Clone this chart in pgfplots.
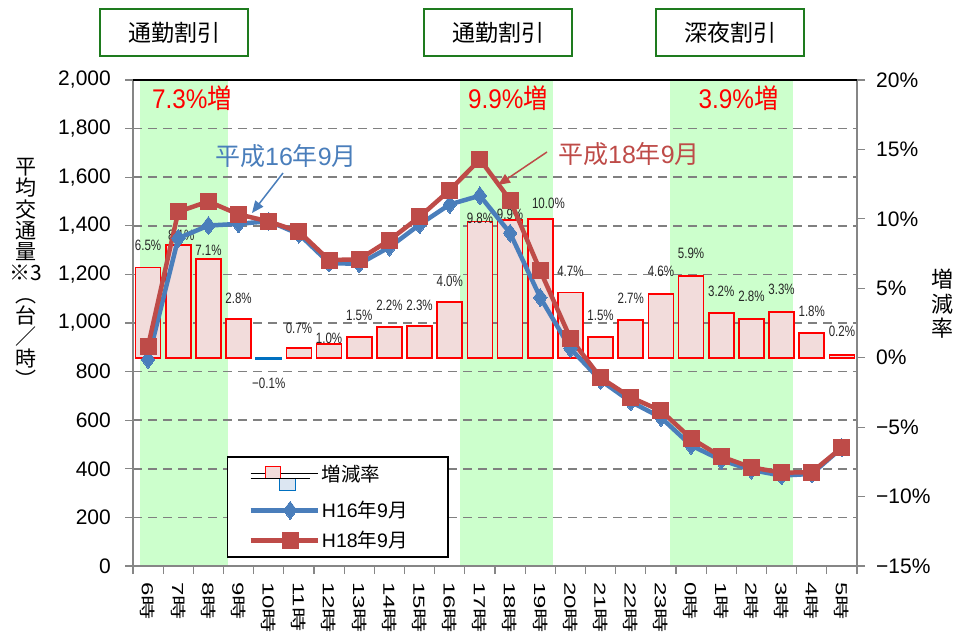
\documentclass[border=0pt]{standalone}
\usepackage{pgfplots}
\pgfplotsset{compat=1.18}
\usetikzlibrary{arrows.meta}
\usepackage{fontspec}
\setmainfont{Liberation Sans}
\newfontfamily\jp{Noto Sans CJK JP}
\newcommand\J[1]{{\jp #1}}
\definecolor{lblue}{HTML}{4A7EBB}
\definecolor{lred}{HTML}{BE4B48}
\definecolor{bandg}{HTML}{CCFFCC}
\definecolor{barfill}{HTML}{F2DCDB}
\definecolor{negblue}{HTML}{0070C0}
\definecolor{negfill}{HTML}{DCE6F2}
\definecolor{boxg}{HTML}{1E7B1E}
\definecolor{axgray}{HTML}{868686}
\definecolor{gridgray}{HTML}{808080}
\pgfplotsset{
  set layers,
  base/.style={scale only axis, width=724pt, height=486pt, at={(133pt,69pt)}, anchor=south west, xmin=-0.5, xmax=23.5},
}
\begin{document}
\begin{tikzpicture}[x=1pt,y=1pt]

% ---- axis 1: bands, grid, left axis, boundary ticks
\begin{axis}[base, ymin=0, ymax=2000,
  axis x line*=bottom, axis y line*=left,
  axis line style={axgray, line width=1.5pt, -},
  ytick={0,200,...,2000},
  yticklabels={0,200,400,600,800,{1,000},{1,200},{1,400},{1,600},{1,800},{2,000}},
  ymajorgrids, grid style={gridgray, line width=1.6pt, dash pattern=on 9pt off 6pt},
  xtick={-0.5,0.5,...,23.5},
  xticklabel style={text opacity=0, font=\tiny},
  tick align=outside, major tick length=8pt,
  tick style={axgray, line width=1.2pt},
  yticklabel style={font=\fontsize{21}{24}\selectfont, inner sep=0pt},
  yticklabel shift=14pt,
]
\addplot[draw=none] coordinates {(0,0)};
\begin{pgfonlayer}{axis background}
\fill[bandg] (axis cs:-0.27,0) rectangle (axis cs:2.65,2000);
\fill[bandg] (axis cs:10.34,0) rectangle (axis cs:13.42,2000);
\fill[bandg] (axis cs:17.3,0) rectangle (axis cs:21.37,2000);
\end{pgfonlayer}
\draw[black, line width=1.8pt] (rel axis cs:0,1) -- (rel axis cs:1,1);
\end{axis}

% ---- axis 2: bars on right axis
\begin{axis}[base, ymin=-15, ymax=20,
  axis y line*=right, axis x line=none,
  axis line style={axgray, line width=1.5pt, -},
  ytick={-15,-10,...,20},
  yticklabels={−15\%,−10\%,−5\%,0\%,5\%,10\%,15\%,20\%},
  tick align=outside, major tick length=8pt,
  tick style={axgray, line width=1.2pt},
  yticklabel style={font=\fontsize{21}{24}\selectfont, inner sep=0pt},
  yticklabel shift=11pt,
]
\addplot[ybar, bar width=25pt, bar shift=0pt, draw=red, fill=barfill, line width=1.6pt]
 coordinates {(0,6.5)(1,8.1)(2,7.1)(3,2.8)(5,0.7)(6,1.0)(7,1.5)(8,2.2)(9,2.3)(10,4.0)(11,9.8)(12,9.9)(13,10.0)(14,4.7)(15,1.5)(16,2.7)(17,4.6)(18,5.9)(19,3.2)(20,2.8)(21,3.3)(22,1.8)(23,0.2)};
\addplot[ybar, bar width=25pt, bar shift=0pt, draw=negblue, fill=negblue, line width=1.6pt]
 coordinates {(4,-0.1)};
\addplot[draw=none, nodes near coords, point meta=explicit symbolic,
  nodes near coords style={anchor=center, font=\fontsize{15}{15}\selectfont, xscale=0.77, inner sep=0pt, text=black!85}]
 coordinates {(0,8.12)[6.5\%] (1.1,8.79)[8.1\%] (2,7.71)[7.1\%] (3,4.30)[2.8\%] (4,-1.82)[−0.1\%]
  (5,2.14)[0.7\%] (6,1.40)[1.0\%] (7,3.07)[1.5\%] (8,3.80)[2.2\%] (9,3.80)[2.3\%] (10,5.47)[4.0\%]
  (11,10.06)[9.8\%] (12,10.35)[9.9\%] (13.27,11.12)[10.0\%] (14,6.24)[4.7\%] (15,3.07)[1.5\%]
  (16,4.28)[2.7\%] (17,6.24)[4.6\%] (18,7.52)[5.9\%] (19,4.80)[3.2\%] (20,4.39)[2.8\%]
  (21,4.92)[3.3\%] (22,3.31)[1.8\%] (23,1.87)[0.2\%]};
\end{axis}

% ---- axis 3: lines, x labels, legend
\begin{axis}[base, ymin=0, ymax=2000,
  axis x line*=bottom, axis y line=none,
  axis line style={draw=none},
  major tick length=0pt,
  xtick={0,...,23},
  xticklabels={6\J{時},7\J{時},8\J{時},9\J{時},10\J{時},11\J{時},12\J{時},13\J{時},14\J{時},15\J{時},16\J{時},17\J{時},18\J{時},19\J{時},20\J{時},21\J{時},22\J{時},23\J{時},0\J{時},1\J{時},2\J{時},3\J{時},4\J{時},5\J{時}},
  xticklabel style={font=\fontsize{16}{16}\selectfont, rotate=-90, anchor=west, xscale=1.5, inner sep=0pt},
  xticklabel shift=16pt,
  legend style={at={(0.1294,0.2263)}, anchor=north west, draw=black, line width=1.5pt, fill=white,
    font=\fontsize{19.5}{22}\selectfont, inner xsep=21pt, inner ysep=6pt, row sep=8pt},
  legend cell align=left,
  legend image code/.code={\path (-12pt,0) -- (55pt,0);
    \draw[mark repeat=2, mark phase=2, #1] plot coordinates {(0pt,0pt) (27.5pt,0pt) (55pt,0pt)};},
]
\addlegendimage{legend image code/.code={\path (-12pt,0) -- (55pt,0);
  \draw[red, fill=barfill, line width=1.2pt] (3pt,-5pt) rectangle (18pt,7pt);
  \draw[negblue, fill=negfill, line width=1.2pt] (17pt,-5pt) rectangle (33pt,-17pt);
  \draw[black, line width=1.2pt] (-12pt,-5pt) -- (47pt,-5pt);}}
\addlegendentry{\makebox[103pt][l]{\J{増減率}}}
\addplot[lblue, line width=4.5pt, mark=diamond*, mark size=9pt, mark options={solid, line width=0pt}]
 coordinates {(0,850)(1,1349)(2,1401)(3,1408)(4,1419)(5,1366)(6,1247)(7,1243)(8,1312)(9,1405)(10,1488)(11,1524)(12,1370)(13,1105)(14,895)(15,764)(16,676)(17,611)(18,496)(19,436)(20,395)(21,372)(22,379)(23,487)};
\addlegendentry{\makebox[103pt][l]{H16\J{年}9\J{月}}}
\addplot[lred, line width=4.5pt, mark=square*, mark size=8pt, mark options={solid, line width=0pt}]
 coordinates {(0,905)(1,1458)(2,1500)(3,1447)(4,1418)(5,1376)(6,1259)(7,1262)(8,1341)(9,1437)(10,1547)(11,1673)(12,1506)(13,1215)(14,937)(15,775)(16,694)(17,639)(18,525)(19,450)(20,406)(21,384)(22,386)(23,488)};
\addlegendentry{\makebox[103pt][l]{H18\J{年}9\J{月}}}
\end{axis}

% ---- annotations
\foreach \cx/\t in {174/通勤割引, 498.3/通勤割引, 730/深夜割引}{
  \node[draw=boxg, line width=2pt, minimum width=148pt, minimum height=47pt, inner sep=0pt,
    font=\fontsize{23}{23}\selectfont\jp] at (\cx,602.5) {\t};
}
\node[red, font=\fontsize{27}{27}\selectfont, xscale=0.9] at (192,537) {7.3\%\J{増}};
\node[red, font=\fontsize{27}{27}\selectfont, xscale=0.9] at (508,537) {9.9\%\J{増}};
\node[red, font=\fontsize{27}{27}\selectfont, xscale=0.9] at (738.5,537) {3.9\%\J{増}};

\node[lblue, font=\fontsize{25}{25}\selectfont] at (286,479) {\J{平成}16\J{年}9\J{月}};
\draw[lblue, line width=1.5pt, -{Triangle[length=12pt,width=10pt]}] (283,462) -- (252,422);
\node[lred, font=\fontsize{25}{25}\selectfont] at (629,481) {\J{平成}18\J{年}9\J{月}};
\draw[lred, line width=1.5pt, -{Triangle[length=12pt,width=10pt]}] (547,483) -- (498,450);

\node[anchor=north, align=center, inner sep=0pt, font=\fontsize{21}{21.3}\selectfont\jp] at (26,477)
 {平\\均\\交\\通\\量\\※3\\︵\\台\\／\\時\\︶};
\node[anchor=north, align=center, inner sep=0pt, font=\fontsize{22}{24.5}\selectfont\jp] at (942,366)
 {増\\減\\率};

\pgfresetboundingbox
\path (0,0) rectangle (958,635);
\end{tikzpicture}
\end{document}
